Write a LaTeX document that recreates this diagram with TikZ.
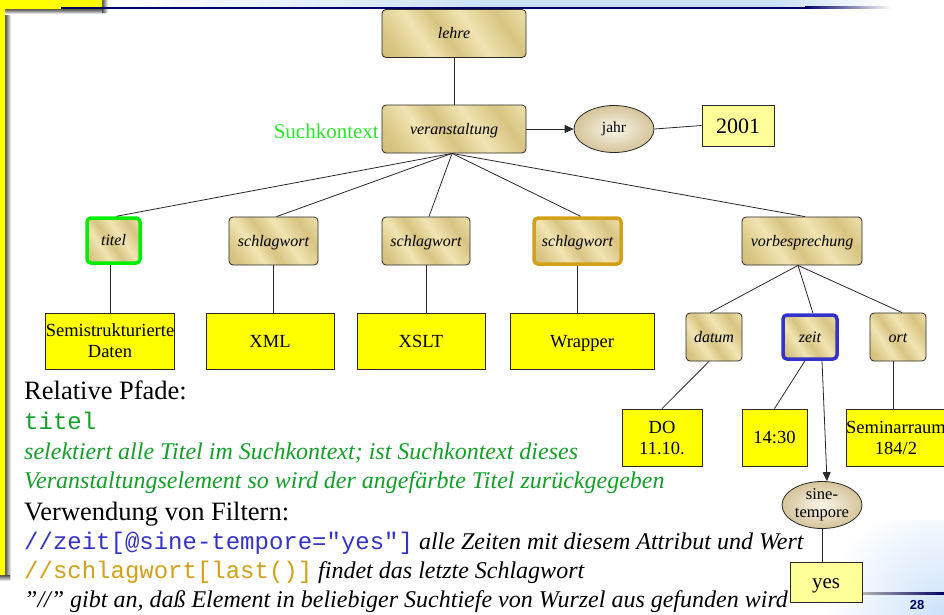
\documentclass[tikz,border=0pt]{standalone}
\usepackage{fontspec}
\setmainfont{Liberation Serif}
\setmonofont{Liberation Mono}
\newfontfamily\arialfont{Liberation Sans}
\usetikzlibrary{shapes.geometric,arrows.meta}

\definecolor{goldA}{RGB}{198,176,108}
\definecolor{goldB}{RGB}{240,228,178}
\definecolor{goldC}{RGB}{216,196,130}
\definecolor{slideyellow}{RGB}{255,255,0}
\definecolor{paleyellow}{RGB}{255,255,153}
\definecolor{ellin}{RGB}{250,245,232}
\definecolor{ellout}{RGB}{212,196,154}
\definecolor{ctxgreen}{RGB}{40,232,40}
\definecolor{hlgreen}{RGB}{0,238,0}
\definecolor{txtgreen}{RGB}{20,160,40}
\definecolor{zeitblue}{RGB}{51,51,204}
\definecolor{wortorange}{RGB}{212,160,23}
\definecolor{navy}{RGB}{0,0,102}
\definecolor{headblue}{RGB}{204,226,250}
\definecolor{edgegray}{RGB}{40,40,40}

\pgfdeclarehorizontalshading{goldsheen}{100bp}{color(0bp)=(goldA); color(22bp)=(goldC); color(36bp)=(goldB); color(46bp)=(goldC); color(58bp)=(goldB); color(72bp)=(goldC); color(86bp)=(goldB); color(100bp)=(goldA)}

\tikzset{
  elem/.style={draw=edgegray, line width=0.8pt, rounded corners=4pt,
    shading=goldsheen, shading angle=35, inner sep=0pt,
    font=\itshape\fontsize{16}{18}\selectfont, minimum height=48pt,
    text height=12pt, text depth=2pt},
  valbox/.style={draw=edgegray, fill=slideyellow, line width=0.8pt,
    inner sep=0pt, align=center, font=\fontsize{18.5}{21}\selectfont,
    minimum height=56pt},
  oneline/.style={text height=12.5pt, text depth=0pt},
  palebox/.style={valbox, fill=paleyellow},
  attr/.style={ellipse, draw=edgegray, line width=0.8pt, inner color=ellin,
    outer color=ellout, inner sep=0pt, align=center,
    font=\fontsize{15.5}{17}\selectfont, minimum width=80pt, minimum height=47pt},
  link/.style={draw=edgegray, line width=0.8pt},
  arrowlink/.style={link, -{Triangle[length=9pt,width=8pt]}},
  textline/.style={anchor=base west, inner sep=0pt},
  plainline/.style={textline, font=\fontsize{26.5}{30}\selectfont},
  noteline/.style={textline, font=\itshape\fontsize{24}{28}\selectfont},
  codefont/.style={font=\ttfamily\fontsize{24}{28}\selectfont}
}
\newcommand\codepart[2]{\textcolor{#1}{\upshape\ttfamily\fontsize{24}{28}\selectfont #2}}

\begin{document}
\begin{tikzpicture}[x=1pt,y=-1pt]
\useasboundingbox (0,0) rectangle (944,614);

% slide header band and rule
\fill[left color=white, right color=headblue] (125,0) rectangle (480,7);
\fill[headblue] (480,0) rectangle (780,7);
\fill[left color=headblue, right color=white] (780,0) rectangle (890,7);
% bottom corner tint
\begin{scope}
  \clip (760,520) rectangle (944,614);
  \shade[inner color=headblue, outer color=white] (824,494) rectangle (1064,734);
\end{scope}

% yellow frame with shadow
\fill[left color=black!70, right color=white] (5,9) rectangle (11,579);
\fill[top color=black!70, bottom color=white] (5,9) rectangle (106,14);
\fill[left color=black!70, right color=white] (102,0) rectangle (108,12);
\fill[top color=black!70, bottom color=white] (0,575) rectangle (10,581);
\fill[slideyellow] (0,0) -- (102,0) -- (102,9) -- (5,9) -- (5,575) -- (0,575) -- cycle;

\fill[navy] (61,6.8) rectangle (805,8.6);
\fill[left color=navy, right color=white] (805,6.8) rectangle (892,8.6);
\fill[left color=black!30, right color=navy] (862,592.3) rectangle (944,594.2);
\node[font=\arialfont\bfseries\fontsize{13}{13}\selectfont, text=navy] (pagenum) at (917,605) {28};

% tree nodes
\node[elem, minimum width=144pt] (lehre) at (454,33.5) {lehre};
\node[elem, minimum width=144pt] (veran) at (454,129) {veranstaltung};
\node[attr] (jahr) at (614,129) {jahr};
\node[palebox, font=\fontsize{22}{24}\selectfont, text height=15pt, text depth=0pt, minimum width=72pt, minimum height=41pt] (y2001) at (738,125.5) {2001};
\node[anchor=east, inner sep=0pt, text=ctxgreen, font=\fontsize{21}{23}\selectfont] (ctx) at (379,131) {Suchkontext};

\node[elem, draw=hlgreen, line width=3.5pt, minimum width=53pt, minimum height=45pt] (titel) at (113.5,240.5) {titel};
\node[elem, minimum width=89pt] (wort1) at (273.5,241) {schlagwort};
\node[elem, minimum width=88pt] (wort2) at (426,241) {schlagwort};
\node[elem, draw=wortorange, line width=3.5pt, minimum width=87pt, minimum height=46pt] (wort3) at (577.5,241) {schlagwort};
\node[elem, minimum width=120pt] (vorb) at (802,241) {vorbesprechung};

\node[valbox, minimum width=128pt] (semi) at (110,341) {Semistrukturierte\\Daten};
\node[valbox, oneline, minimum width=128pt] (xml) at (270,341) {XML};
\node[valbox, oneline, minimum width=128pt] (xslt) at (421,341) {XSLT};
\node[valbox, oneline, minimum width=144pt] (wrap) at (582,341) {Wrapper};

\node[elem, minimum width=56pt] (datum) at (714,337) {datum};
\node[elem, draw=zeitblue, line width=3.5pt, minimum width=54pt, minimum height=44pt] (zeit) at (810,337) {zeit};
\node[elem, minimum width=56pt] (ort) at (898,337) {ort};

\node[valbox, minimum width=80pt, minimum height=57pt] (tag) at (662,437.5) {DO\\11.10.};
\node[valbox, oneline, minimum width=65pt, minimum height=57pt] (uhr) at (774.5,437.5) {14:30};
\node[valbox, minimum width=100pt, minimum height=57pt] (raum) at (896,437.5) {Seminarraum\\184/2};

\node[attr, font=\fontsize{16.5}{18}\selectfont] (sine) at (822,505) {\makebox[0pt]{sine-}\\\makebox[0pt]{tempore}};
\node[palebox, font=\fontsize{21}{23}\selectfont, text height=12pt, text depth=0pt, minimum width=72pt, minimum height=40pt] (yes) at (826,582) {yes};

% connectors
\draw[link] (lehre.south) -- (veran.north);
\draw[arrowlink] (veran.east) -- (jahr.west);
\draw[link] (jahr.east) -- (y2001.west);
\foreach \c in {titel,wort1,wort2,wort3,vorb}
  \draw[link] ([xshift=-2pt]veran.south) -- ([xshift=3pt]\c.north);
\draw[link] ([xshift=-3pt]titel.south) -- ([xshift=-3pt]titel.south |- semi.north);
\foreach \p/\c in {wort1/xml,wort2/xslt,wort3/wrap}
  \draw[link] (\p.south) -- (\p.south |- \c.north);
\draw[link] ([xshift=-4pt]vorb.south) -- ([xshift=-4pt]datum.north);
\draw[link] ([xshift=-4pt]vorb.south) -- ([xshift=3pt]zeit.north);
\draw[link] ([xshift=-4pt]vorb.south) -- ([xshift=4pt]ort.north);
\draw[link] ([xshift=-5pt]datum.south) -- (tag.north);
\draw[link] ([xshift=-5pt]zeit.south) -- (uhr.north);
\draw[link] ([xshift=-5pt]ort.south) -- ([xshift=-5pt]ort.south |- raum.north);
\draw[arrowlink] ([xshift=12pt]zeit.south) -- ([xshift=5pt]sine.north);
\draw[link] (sine.south) -- (sine.south |- yes.north);

% explanatory text
\node[plainline] (t1) at (24,399) {Relative Pfade:};
\node[textline, codefont, text=txtgreen] (t2) at (24,429) {titel};
\node[noteline, text=txtgreen] (t3) at (24,459) {selektiert alle Titel im Suchkontext; ist Suchkontext dieses};
\node[noteline, text=txtgreen] (t4) at (24,488) {Veranstaltungselement so wird der angefärbte Titel zurückgegeben};
\node[plainline] (t5) at (24,520) {Verwendung von Filtern:};
\node[noteline] (t6) at (24,549) {\codepart{zeitblue}{//zeit[@sine-tempore="yes"]} alle Zeiten mit diesem Attribut und Wert};
\node[noteline] (t7) at (24,578) {\codepart{wortorange}{//schlagwort[last()]} findet das letzte Schlagwort};
\node[noteline] (t8) at (24,607) {"//" gibt an, daß Element in beliebiger Suchtiefe von Wurzel aus gefunden wird};
\end{tikzpicture}
\end{document}
